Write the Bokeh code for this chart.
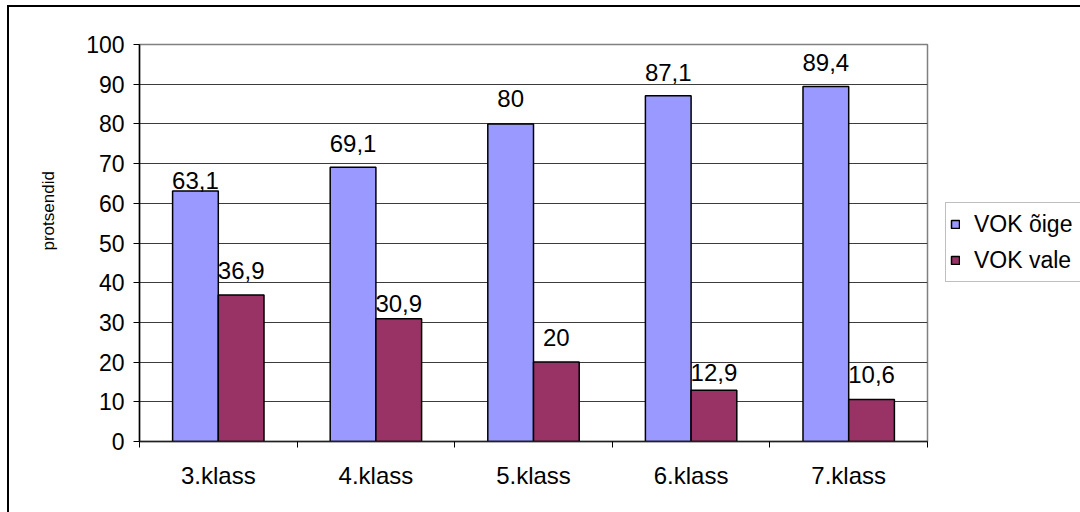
from bokeh.embed import file_html
from bokeh.resources import INLINE
from bokeh.plotting import figure
from bokeh.models import (ColumnDataSource, Range1d, FixedTicker, Legend, LegendItem,
                          LinearAxis, Grid, Title)
from bokeh.transform import dodge
from bokeh.core.properties import value

# ---- data -------------------------------------------------------------
classes = ["3.klass", "4.klass", "5.klass", "6.klass", "7.klass"]
vok_oige = [63.1, 69.1, 80, 87.1, 89.4]
vok_vale = [36.9, 30.9, 20, 12.9, 10.6]
series_names = ["VOK õige", "VOK vale"]
y_ticks = [0, 10, 20, 30, 40, 50, 60, 70, 80, 90, 100]

# pixel lift of each value label above its bar
lift_oige = [2, 15, 17, 15, 16]
lift_vale = [16, 7, 16, 9, 16]

FONT = "Liberation Sans"
BLUE = "#9999FF"
PLUM = "#993366"


def fmt(v):
    return f"{v:g}".replace(".", ",")


centers = [i + 0.5 for i in range(len(classes))]
src = ColumnDataSource(dict(
    center=centers,
    oige=vok_oige,
    vale=vok_vale,
    oige_txt=[fmt(v) for v in vok_oige],
    vale_txt=[fmt(v) for v in vok_vale],
    lift_oige=[-d for d in lift_oige],
    lift_vale=[-d for d in lift_vale],
))

p = figure(
    frame_width=788, frame_height=397,
    x_range=Range1d(0, len(classes)), y_range=Range1d(0, 100),
    output_backend="svg", toolbar_location=None,
    min_border_left=130, min_border_right=153,
    min_border_top=37, min_border_bottom=71,
    x_axis_type=None, y_axis_type=None,
)
p.styles = {"margin-left": "7px", "margin-top": "5px",
            "border-left": "2px solid #000000", "border-top": "2px solid #000000"}
p.background_fill_color = "white"
p.border_fill_color = "white"
p.outline_line_color = "#808080"
p.outline_line_width = 1.5

# y axis
yax = LinearAxis(ticker=FixedTicker(ticks=y_ticks))
yax.axis_line_color = "#000000"
yax.axis_line_width = 1.5
yax.major_tick_line_color = "#000000"
yax.major_tick_out = 6
yax.major_tick_in = 0
yax.minor_tick_line_color = None
yax.major_label_text_font = FONT
yax.major_label_text_font_size = "23px"
yax.major_label_text_color = "#000000"
yax.major_label_standoff = 9
p.add_layout(yax, "left")

# axis title, vertical, on the left
ytitle = Title(text="protsendid", align="left", offset=191, standoff=51,
               text_font=FONT, text_font_size="17px", text_font_style="normal",
               text_color="#000000")
p.add_layout(ytitle, "left")

# x axis: labels at class centres, tick marks at class boundaries
xax = LinearAxis(ticker=FixedTicker(ticks=centers,
                                    minor_ticks=list(range(len(classes) + 1))))
xax.major_label_overrides = {c: name for c, name in zip(centers, classes)}
xax.axis_line_color = "#202020"
xax.axis_line_width = 1.5
xax.major_tick_line_color = None
xax.major_tick_out = 0
xax.major_tick_in = 0
xax.minor_tick_line_color = "#000000"
xax.minor_tick_out = 6
xax.minor_tick_in = 0
xax.major_label_text_font = FONT
xax.major_label_text_font_size = "24px"
xax.major_label_text_color = "#000000"
xax.major_label_standoff = 14
p.add_layout(xax, "below")

grid = Grid(dimension=1, ticker=yax.ticker)
grid.grid_line_color = "#3c3c3c"
grid.grid_line_width = 1
p.add_layout(grid)

bar_w = 0.29
r1 = p.vbar(x=dodge("center", -bar_w / 2), top="oige", width=bar_w, source=src,
            fill_color=BLUE, line_color="#000000", line_width=1.5)
r2 = p.vbar(x=dodge("center", bar_w / 2), top="vale", width=bar_w, source=src,
            fill_color=PLUM, line_color="#000000", line_width=1.5)

p.text(x=dodge("center", -bar_w / 2), y="oige", text="oige_txt", source=src,
       y_offset="lift_oige", text_align="center", text_baseline="bottom",
       text_font=value(FONT), text_font_size="24px", text_color="#000000")
p.text(x=dodge("center", bar_w / 2), y="vale", text="vale_txt", source=src,
       y_offset="lift_vale", text_align="center", text_baseline="bottom",
       text_font=value(FONT), text_font_size="24px", text_color="#000000")

legend = Legend(items=[LegendItem(label=series_names[0], renderers=[r1]),
                       LegendItem(label=series_names[1], renderers=[r2])],
                location=(18, 159), orientation="vertical")
legend.border_line_color = "#808080"
legend.border_line_width = 1.5
legend.background_fill_color = "white"
legend.padding = 4
legend.spacing = 2
legend.margin = 0
legend.glyph_width = 10
legend.glyph_height = 10
legend.label_height = 34
legend.label_width = 110
legend.label_standoff = 14
legend.label_text_font = FONT
legend.label_text_font_size = "23px"
legend.label_text_color = "#000000"
legend.label_text_baseline = "middle"
p.add_layout(legend, "right")

open("out.html", "w").write(file_html(p, INLINE))
